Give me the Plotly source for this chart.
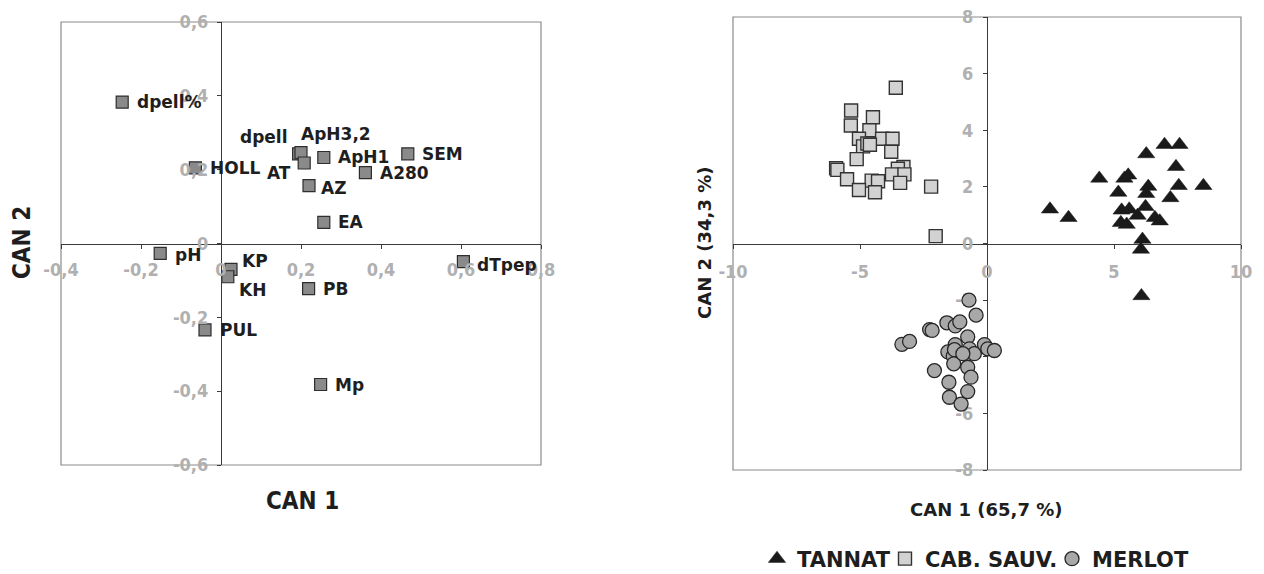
import plotly.graph_objects as go

# ---- Left panel: variable loadings on the two canonical axes ----
var_names = ["dpell%", "HOLL", "dpell", "ApH3,2", "AT", "ApH1", "SEM", "A280", "AZ", "EA",
             "pH", "KP", "KH", "dTpep", "PB", "PUL", "Mp"]
var_can1 = [-0.247, -0.064, 0.194, 0.200, 0.208, 0.257, 0.467, 0.361, 0.220, 0.257,
            -0.152, 0.025, 0.017, 0.606, 0.219, -0.040, 0.249]
var_can2 = [0.383, 0.205, 0.243, 0.246, 0.218, 0.233, 0.243, 0.192, 0.157, 0.057,
            -0.027, -0.070, -0.090, -0.049, -0.122, -0.234, -0.382]

load_x_ticks = [-0.4, -0.2, 0, 0.2, 0.4, 0.6, 0.8]
load_x_labels = ["-0,4", "-0,2", "0", "0,2", "0,4", "0,6", "0,8"]
load_y_ticks = [-0.6, -0.4, -0.2, 0, 0.2, 0.4, 0.6]
load_y_labels = ["-0,6", "-0,4", "-0,2", "0", "0,2", "0,4", "0,6"]

# ---- Right panel: wine scores on the two canonical axes ----
tannat_can1 = [6.99, 7.58, 6.27, 7.44, 4.42, 5.41, 5.56, 7.55, 8.52, 6.35, 5.17, 6.27, 7.22,
               2.48, 3.21, 5.30, 5.60, 6.24, 5.93, 6.61, 6.80, 5.27, 5.50, 6.12, 6.06, 6.08]
tannat_can2 = [3.49, 3.49, 3.16, 2.71, 2.30, 2.30, 2.41, 2.04, 2.04, 2.01, 1.80, 1.76, 1.61,
               1.21, 0.91, 1.17, 1.21, 1.30, 0.99, 0.91, 0.79, 0.73, 0.67, 0.14, -0.21, -1.85]

cabsauv_can1 = [-3.59, -5.35, -4.49, -5.36, -4.63, -5.04, -4.13, -3.72, -4.88, -4.71, -4.61,
                -3.77, -5.13, -5.94, -5.89, -5.51, -3.29, -3.51, -3.74, -3.25, -3.42, -4.54,
                -4.29, -5.04, -4.41, -2.20, -2.02]
cabsauv_can2 = [5.50, 4.70, 4.46, 4.17, 4.00, 3.70, 3.70, 3.70, 3.43, 3.53, 3.49,
                3.24, 2.98, 2.66, 2.60, 2.27, 2.70, 2.64, 2.44, 2.44, 2.14, 2.22,
                2.20, 1.89, 1.81, 2.01, 0.26]

merlot_can1 = [-0.71, -0.43, -1.58, -1.25, -1.07, -2.26, -2.16, -3.35, -3.05, -0.76, -1.25,
               -1.54, -1.33, -1.28, -0.69, -0.50, -0.10, 0.03, 0.29, -1.31, -0.76, -0.63,
               -2.07, -1.50, -0.76, -1.48, -1.02, -0.95]
merlot_can2 = [-2.00, -2.53, -2.80, -2.91, -2.77, -3.04, -3.07, -3.56, -3.46, -3.30, -3.57,
               -3.83, -3.98, -3.75, -3.72, -3.89, -3.57, -3.72, -3.78, -4.25, -4.37, -4.72,
               -4.49, -4.90, -5.23, -5.43, -5.67, -3.89]

score_x_ticks = [-10, -5, 0, 5, 10]
score_x_labels = ["-10", "-5", "0", "5", "10"]
score_y_ticks = [-8, -6, -4, -2, 0, 2, 4, 6, 8]
score_y_labels = ["-8", "-6", "-4", "-2", "0", "2", "4", "6", "8"]

# ---- Styling ----
W, H = 1264, 574
FONT_NARROW = "DejaVu Sans Condensed, DejaVu Sans, sans-serif"
FONT_WIDE = "DejaVu Sans, sans-serif"
INK = "#1e1e1e"
TICK_GREY = "#b0b0b0"

# plot boxes in pixels (left, right, top, bottom)
left_box = (61, 541, 22, 465)
right_box = (733, 1241, 17, 470)

# label placement around each loading marker: (xanchor, xshift, yshift)
label_place = {
    "dpell": ("right", -9, 17),
    "ApH3,2": ("left", -2, 19),
    "AT": ("right", -11, -10),
    "AZ": ("left", 10, -2),
    "pH": ("left", 13, -2),
    "KP": ("left", 9, 8),
    "KH": ("left", 9, -13),
    "dTpep": ("left", 12, -3),
}
default_place = ("left", 12.5, 0)


def xdom(box):
    return [box[0] / W, box[1] / W]


def ydom(box):
    return [1 - box[3] / H, 1 - box[2] / H]


def zero_pos(dom, rng):
    return dom[0] + (0 - rng[0]) / (rng[1] - rng[0]) * (dom[1] - dom[0])


fig = go.Figure()

fig.add_trace(go.Scatter(
    x=var_can1, y=var_can2, mode="markers", xaxis="x", yaxis="y",
    marker=dict(symbol="square", size=12, color="#8a8a8a",
                line=dict(color="#2e2e2e", width=1.2)),
    showlegend=False, hoverinfo="skip",
))

fig.add_trace(go.Scatter(
    x=tannat_can1, y=tannat_can2, mode="markers", xaxis="x2", yaxis="y2",
    name="TANNAT", legend="legend",
    marker=dict(symbol="triangle-up", size=15, color="#1a1a1a",
                line=dict(color="#1a1a1a", width=0.5)),
))
fig.add_trace(go.Scatter(
    x=cabsauv_can1, y=cabsauv_can2, mode="markers", xaxis="x2", yaxis="y2",
    name="CAB. SAUV.", legend="legend2",
    marker=dict(symbol="square", size=13, color="#d2d2d2",
                line=dict(color="#333333", width=1.4)),
))
fig.add_trace(go.Scatter(
    x=merlot_can1, y=merlot_can2, mode="markers", xaxis="x2", yaxis="y2",
    name="MERLOT", legend="legend3",
    marker=dict(symbol="circle", size=14, color="#a8a8a8",
                line=dict(color="#262626", width=1.3)),
))

lx_rng, ly_rng = [-0.4, 0.8], [-0.6, 0.6]
rx_rng, ry_rng = [-10, 10], [-8, 8]
lxd, lyd = xdom(left_box), ydom(left_box)
rxd, ryd = xdom(right_box), ydom(right_box)

axis_common = dict(
    showgrid=False, zeroline=False, showline=True, linecolor="#3a3a3a", linewidth=1.2,
    ticks="outside", ticklen=4, tickcolor="#3a3a3a", tickwidth=1.2,
    anchor="free", autorange=False, fixedrange=True,
)

fig.update_layout(
    xaxis=dict(**axis_common, domain=lxd, range=lx_rng, position=zero_pos(lyd, ly_rng),
               tickvals=load_x_ticks, ticktext=load_x_labels, ticklabelstandoff=6,
               tickfont=dict(family=FONT_NARROW, size=18, color=TICK_GREY, weight="bold"),
               layer="above traces"),
    yaxis=dict(**axis_common, domain=lyd, range=ly_rng, position=zero_pos(lxd, lx_rng),
               tickvals=load_y_ticks, ticktext=load_y_labels, ticklabelstandoff=5,
               tickfont=dict(family=FONT_NARROW, size=18, color=TICK_GREY, weight="bold"),
               layer="above traces"),
    xaxis2=dict(**axis_common, domain=rxd, range=rx_rng, position=zero_pos(ryd, ry_rng),
                tickvals=score_x_ticks, ticktext=score_x_labels, ticklabelstandoff=8,
                tickfont=dict(family=FONT_NARROW, size=18, color=TICK_GREY, weight="bold"),
                layer="below traces"),
    yaxis2=dict(**axis_common, domain=ryd, range=ry_rng, position=zero_pos(rxd, rx_rng),
                tickvals=score_y_ticks, ticktext=score_y_labels, ticklabelstandoff=6,
                tickfont=dict(family=FONT_NARROW, size=18, color=TICK_GREY, weight="bold"),
                layer="below traces"),
)

# plot frames
for xr, yr in (("x", "y"), ("x2", "y2")):
    fig.add_shape(type="rect", xref=f"{xr} domain", yref=f"{yr} domain",
                  x0=0, x1=1, y0=0, y1=1, layer="below",
                  line=dict(color="#8a8a8a", width=1.2))

# loading labels
for name, cx, cy in zip(var_names, var_can1, var_can2):
    anchor, dx, dy = label_place.get(name, default_place)
    fig.add_annotation(x=cx, y=cy, xref="x", yref="y", text=name, showarrow=False,
                       xanchor=anchor, yanchor="middle", xshift=dx, yshift=dy,
                       font=dict(family=FONT_WIDE, size=17, color=INK, weight="bold"))

# axis titles
titles = [
    ("CAN 1", 302, 501, 0, 24, FONT_NARROW),
    ("CAN 2", 22, 243, -90, 24, FONT_NARROW),
    ("CAN 1 (65,7 %)", 986, 509, 0, 18, FONT_WIDE),
    ("CAN 2 (34,3 %)", 705, 243, -90, 18, FONT_WIDE),
]
for txt, px, py, ang, fs, fam in titles:
    fig.add_annotation(x=px / W, y=1 - py / H, xref="paper", yref="paper", text=txt,
                       showarrow=False, textangle=ang, xanchor="center", yanchor="middle",
                       font=dict(family=fam, size=fs, color=INK, weight="bold"))

legend_font = dict(family=FONT_WIDE, size=21, color=INK, weight="bold")
legend_common = dict(orientation="h", xanchor="left", yanchor="middle", y=1 - 559 / H,
                     bgcolor="rgba(0,0,0,0)", borderwidth=0, font=legend_font,
                     itemwidth=30)
fig.update_layout(
    legend=dict(**legend_common, x=757 / W),
    legend2=dict(**legend_common, x=885 / W),
    legend3=dict(**legend_common, x=1052 / W),
)

fig.update_layout(
    width=W, height=H,
    margin=dict(l=0, r=0, t=0, b=0, autoexpand=False),
    paper_bgcolor="white", plot_bgcolor="rgba(0,0,0,0)",
    font=dict(family=FONT_NARROW, color=INK),
)

fig.write_html("out.html")
